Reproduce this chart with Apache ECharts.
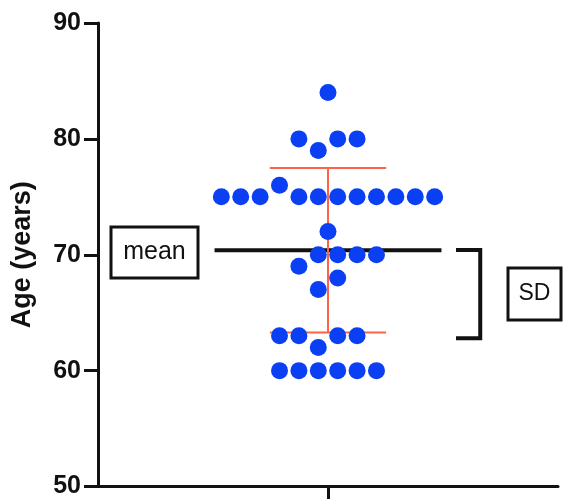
<!DOCTYPE html>
<html>
<head>
<meta charset="utf-8">
<script src="https://cdn.jsdelivr.net/npm/echarts@6/dist/echarts.min.js"></script>
<style>
  html, body { margin: 0; padding: 0; background: #fff; }
  #chart { width: 563px; height: 499px; }
</style>
</head>
<body>
<div id="chart"></div>
<script>
// ages, with the column slot each dot sits in
const ages = [84, 80, 80, 80, 79, 76, 75, 75, 75, 75, 75, 75, 75, 75, 75, 75, 75,
  72, 70, 70, 70, 70, 69, 68, 67, 63, 63, 63, 63, 62, 60, 60, 60, 60, 60, 60]
const slots = [0, -1.5, 0.5, 1.5, -0.5, -2.5, -5.5, -4.5, -3.5, -1.5, -0.5, 0.5, 1.5, 2.5, 3.5, 4.5, 5.5,
  0, -0.5, 0.5, 1.5, 2.5, -1.5, 0.5, -0.5, -2.5, -1.5, 0.5, 1.5, -0.5, -2.5, -1.5, -0.5, 0.5, 1.5, 2.5]
const yTicks = [50, 60, 70, 80, 90]
const bracket = [70.4, 62.8]

const n = ages.length
const mean = ages.reduce((a, b) => a + b, 0) / n
const sd = Math.sqrt(ages.reduce((a, b) => a + (b - mean) * (b - mean), 0) / (n - 1))

const myChart = echarts.init(document.getElementById('chart'))
const black = '#111'
const red = '#ff6347'
const blue = '#0b3ff3'

const option = {
  animation: false,
  grid: { left: 98, right: 5, top: 23, bottom: 12 },
  xAxis: {
    type: 'value',
    min: -11.86,
    max: 11.86,
    splitLine: { show: false },
    axisLine: { onZero: false, lineStyle: { color: black, width: 3 } },
    axisTick: { customValues: [0], length: 14, lineStyle: { color: black, width: 3 } },
    axisLabel: { show: false }
  },
  yAxis: {
    type: 'value',
    min: yTicks[0],
    max: yTicks[yTicks.length - 1],
    interval: 10,
    name: 'Age (years)',
    nameLocation: 'middle',
    nameRotate: 90,
    nameGap: 62,
    nameTextStyle: { fontFamily: 'Liberation Sans', fontWeight: 'bold', fontSize: 27, color: black },
    splitLine: { show: false },
    axisLine: { show: true, onZero: false, lineStyle: { color: black, width: 3 } },
    axisTick: { show: true, length: 14, lineStyle: { color: black, width: 3 } },
    axisLabel: { margin: 17, fontFamily: 'Liberation Sans', fontWeight: 'bold', fontSize: 25, color: black }
  },
  series: [
    {
      type: 'line',
      data: [[-5.85, mean], [5.85, mean]],
      symbol: 'none',
      lineStyle: { color: black, width: 4 },
      z: 2
    },
    {
      type: 'line',
      data: [[-3, mean + sd], [3, mean + sd]],
      symbol: 'none',
      lineStyle: { color: red, width: 2 },
      z: 3
    },
    {
      type: 'line',
      data: [[-3, mean - sd], [3, mean - sd]],
      symbol: 'none',
      lineStyle: { color: red, width: 2 },
      z: 3
    },
    {
      type: 'line',
      data: [[0, mean + sd], [0, mean - sd]],
      symbol: 'none',
      lineStyle: { color: red, width: 2 },
      z: 3
    },
    {
      type: 'line',
      data: [[6.6, bracket[0]], [7.85, bracket[0]], [7.85, bracket[1]], [6.6, bracket[1]]],
      symbol: 'none',
      lineStyle: { color: black, width: 4, join: 'miter' },
      z: 2
    },
    {
      type: 'scatter',
      data: ages.map((v, i) => [slots[i], v]),
      symbolSize: 17,
      itemStyle: { color: blue, opacity: 1 },
      z: 4
    }
  ],
  graphic: [
    {
      type: 'rect',
      shape: { x: 111, y: 227, width: 87, height: 51 },
      style: { fill: '#fff', stroke: black, lineWidth: 3 }
    },
    {
      type: 'text',
      x: 154.5,
      y: 252.5,
      style: { text: 'mean', fontFamily: 'Liberation Sans', fontSize: 25, fill: black, align: 'center', verticalAlign: 'middle' }
    },
    {
      type: 'rect',
      shape: { x: 508, y: 268, width: 53, height: 52 },
      style: { fill: '#fff', stroke: black, lineWidth: 3 }
    },
    {
      type: 'text',
      x: 534.5,
      y: 294,
      style: { text: 'SD', fontFamily: 'Liberation Sans', fontSize: 23, fill: black, align: 'center', verticalAlign: 'middle' }
    }
  ]
}
myChart.setOption(option)
</script>
</body>
</html>
